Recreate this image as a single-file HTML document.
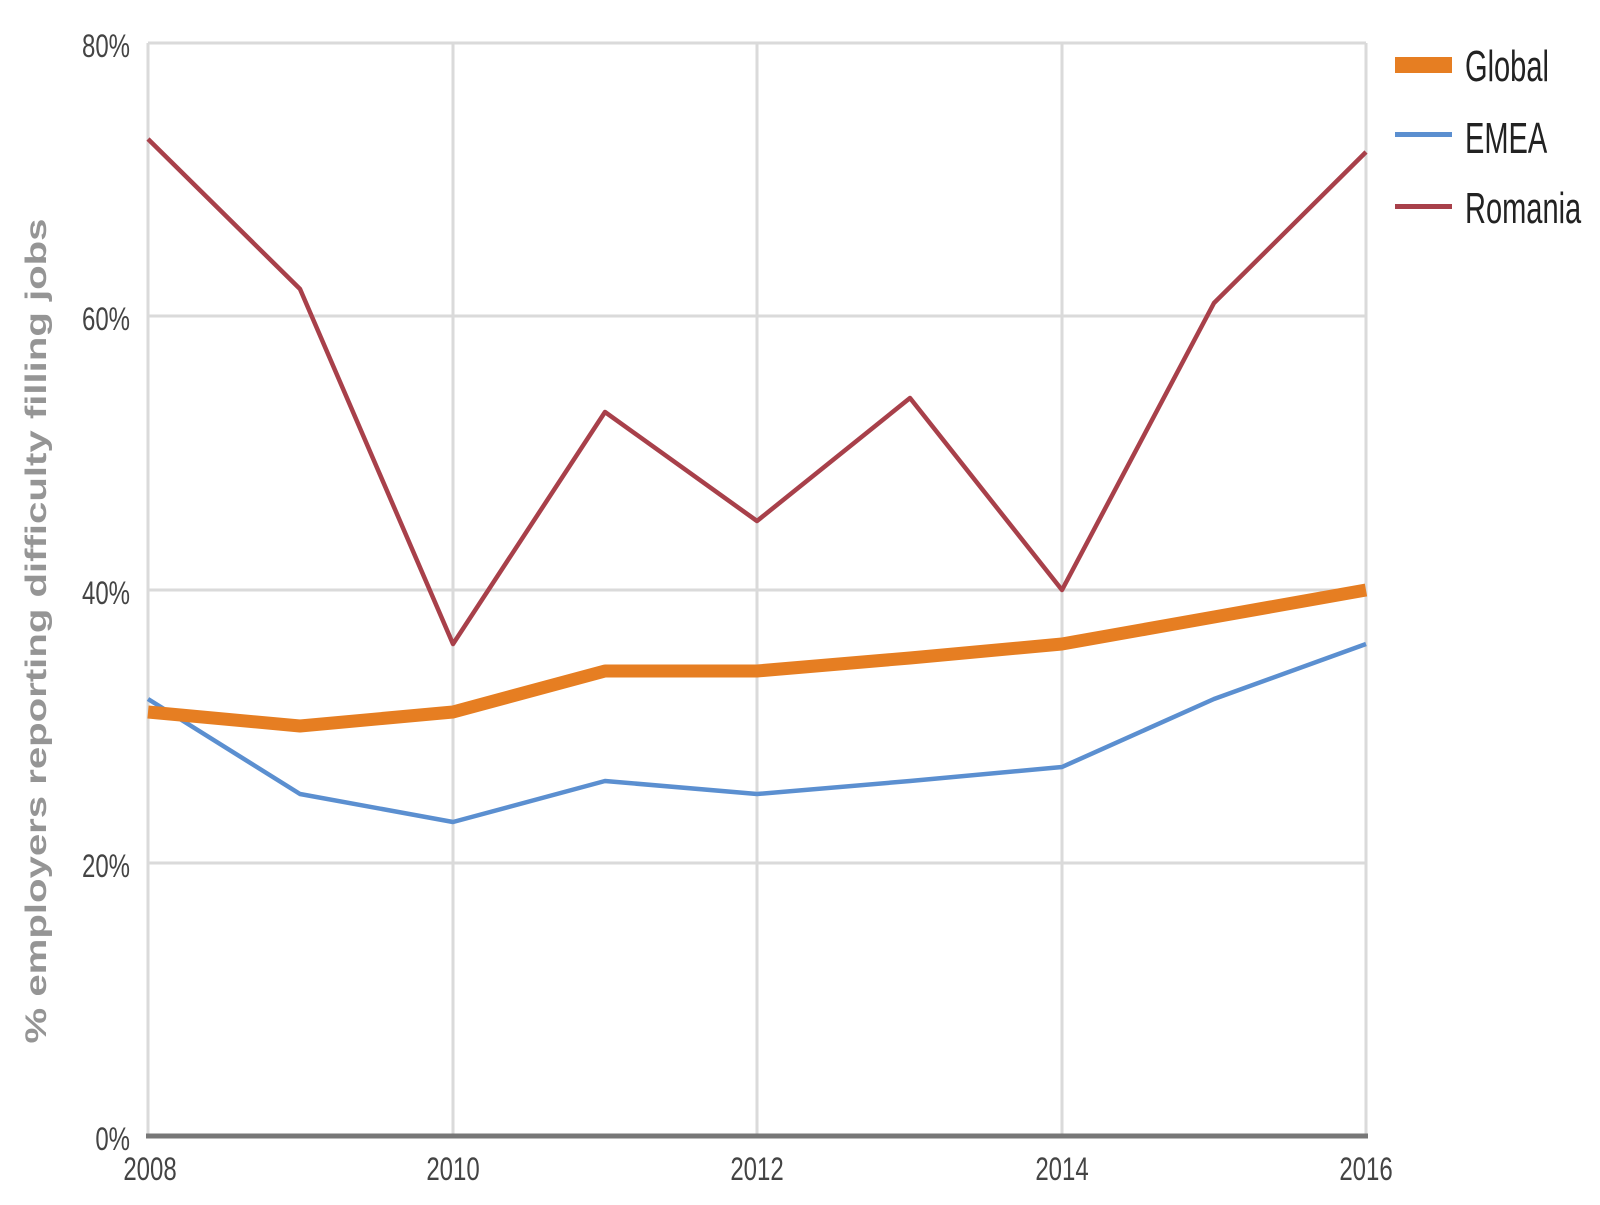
<!DOCTYPE html>
<html><head><style>html,body{margin:0;padding:0;background:#fff;}</style></head>
<body>
<svg width="1600" height="1200" viewBox="0 0 1600 1200" xmlns="http://www.w3.org/2000/svg" font-family="Liberation Sans, sans-serif">
<g stroke="#dadada" stroke-width="3">
<line x1="148" y1="43" x2="1366" y2="43"/>
<line x1="148" y1="316" x2="1366" y2="316"/>
<line x1="148" y1="590" x2="1366" y2="590"/>
<line x1="148" y1="863" x2="1366" y2="863"/>
<line x1="148" y1="43" x2="148" y2="1136"/>
<line x1="453" y1="43" x2="453" y2="1136"/>
<line x1="757" y1="43" x2="757" y2="1136"/>
<line x1="1062" y1="43" x2="1062" y2="1136"/>
<line x1="1366" y1="43" x2="1366" y2="1136"/>
</g>
<line x1="146" y1="1136" x2="1368" y2="1136" stroke="#777" stroke-width="5"/>
<g fill="#444" font-size="32" text-anchor="end">
<text transform="translate(130,57) scale(0.75,1)">80%</text>
<text transform="translate(130,330) scale(0.75,1)">60%</text>
<text transform="translate(130,604) scale(0.75,1)">40%</text>
<text transform="translate(130,877) scale(0.75,1)">20%</text>
<text transform="translate(130,1150) scale(0.75,1)">0%</text>
</g>
<g fill="#444" font-size="32" text-anchor="middle">
<text transform="translate(150,1180) scale(0.75,1)">2008</text>
<text transform="translate(453,1180) scale(0.75,1)">2010</text>
<text transform="translate(757,1180) scale(0.75,1)">2012</text>
<text transform="translate(1062,1180) scale(0.75,1)">2014</text>
<text transform="translate(1366,1180) scale(0.75,1)">2016</text>
</g>
<text transform="translate(46,631) rotate(-90)" text-anchor="middle" fill="#959595" font-size="30" font-weight="bold" textLength="825" lengthAdjust="spacingAndGlyphs">% employers reporting difficulty filling jobs</text>
<g fill="none" stroke-linejoin="round">
<polyline stroke="#a8404a" stroke-width="4.5" points="148,139 300,289 453,644 605,412 757,521 910,398 1062,590 1214,303 1366,152"/>
<polyline stroke="#5b8fd0" stroke-width="4.5" points="148,699 300,794 453,822 605,781 757,794 910,781 1062,767 1214,699 1366,644"/>
<polyline stroke="#e67e22" stroke-width="13" points="148,712 300,726 453,712 605,671 757,671 910,658 1062,644 1214,617 1366,590"/>
</g>
<rect x="1395" y="57" width="57" height="16" fill="#e67e22"/>
<rect x="1395" y="132" width="57" height="5" fill="#5b8fd0"/>
<rect x="1395" y="204" width="57" height="5" fill="#a8404a"/>
<g fill="#222" font-size="44">
<text transform="translate(1465,81) scale(0.66,1)">Global</text>
<text transform="translate(1465,153) scale(0.66,1)">EMEA</text>
<text transform="translate(1465,223) scale(0.66,1)">Romania</text>
</g>
</svg>
</body></html>
